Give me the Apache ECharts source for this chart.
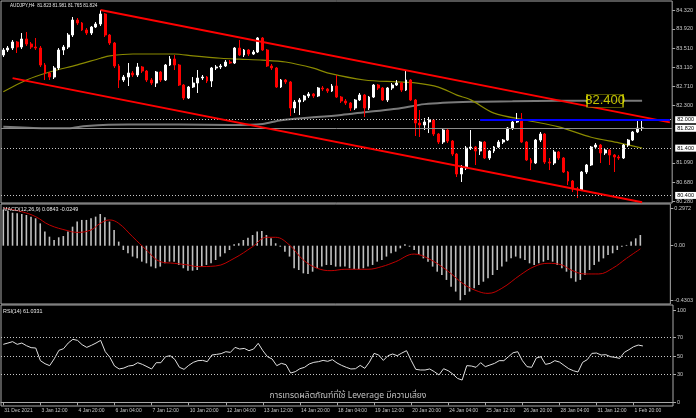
<!DOCTYPE html>
<html><head><meta charset="utf-8">
<script src="https://cdn.jsdelivr.net/npm/echarts@6/dist/echarts.min.js"></script>
<style>html,body{margin:0;padding:0;background:#000;}#c{width:696px;height:418px;}</style>
</head><body><div id="c"></div>
<script>
const tickLabels = ['31 Dec 2021','3 Jan 12:00','4 Jan 20:00','6 Jan 04:00','7 Jan 12:00','10 Jan 20:00','12 Jan 04:00','13 Jan 12:00','14 Jan 20:00','18 Jan 04:00','19 Jan 12:00','20 Jan 20:00','24 Jan 04:00','25 Jan 12:00','26 Jan 20:00','28 Jan 04:00','31 Jan 12:00','1 Feb 20:00'];

const openP = [
83.368,83.474,83.516,83.643,83.537,83.707,83.601,83.537,83.516,83.157,
82.988,82.903,83.094,83.474,83.537,83.791,84.108,84.045,83.897,83.833,
83.960,84.024,84.235,83.791,83.622,83.136,82.840,82.903,82.988,82.946,
83.115,83.030,82.840,82.776,83.009,82.840,83.157,83.284,83.157,82.734,
82.459,82.692,82.776,82.882,82.903,82.819,83.094,83.115,83.136,83.220,
83.199,83.516,83.368,83.474,83.389,83.432,83.728,83.474,83.136,83.094,
82.692,82.840,82.798,82.248,82.375,82.417,82.502,82.544,82.502,82.671,
82.650,82.607,82.713,82.480,82.396,82.354,82.248,82.417,82.523,82.248,
82.480,82.734,82.671,82.417,82.671,82.734,82.776,82.628,82.840,82.417,
81.931,81.889,81.952,81.994,81.698,81.529,81.783,81.550,81.275,80.853,
80.980,81.402,81.423,81.339,81.529,81.191,81.339,81.423,81.529,81.571,
81.825,81.952,81.994,81.529,81.149,81.085,81.571,81.698,81.106,81.085,
81.318,81.191,80.895,80.705,80.536,80.514,80.895,81.043,81.423,81.466,
81.297,81.360,81.254,81.212,81.191,81.466,81.571,81.741,81.823];
const closeP = [
83.474,83.516,83.643,83.537,83.707,83.601,83.537,83.516,83.157,82.988,
82.903,83.094,83.474,83.537,83.791,84.108,84.045,83.897,83.833,83.960,
84.024,84.235,83.791,83.622,83.136,82.840,82.903,82.988,82.946,83.115,
83.030,82.840,82.776,83.009,82.840,83.157,83.284,83.157,82.734,82.459,
82.692,82.776,82.882,82.903,82.819,83.094,83.115,83.136,83.220,83.199,
83.516,83.368,83.474,83.389,83.432,83.728,83.474,83.136,83.094,82.692,
82.840,82.798,82.248,82.375,82.417,82.502,82.544,82.502,82.671,82.650,
82.607,82.713,82.480,82.396,82.354,82.248,82.417,82.523,82.248,82.480,
82.734,82.671,82.417,82.671,82.734,82.776,82.628,82.840,82.417,81.931,
81.889,81.952,81.994,81.698,81.529,81.783,81.550,81.275,80.853,80.980,
81.402,81.423,81.339,81.529,81.191,81.339,81.423,81.529,81.571,81.825,
81.952,81.994,81.529,81.149,81.085,81.571,81.698,81.106,81.085,81.318,
81.191,80.895,80.705,80.536,80.514,80.895,81.043,81.423,81.466,81.297,
81.360,81.254,81.212,81.191,81.466,81.571,81.741,81.823,81.824];
const highP = [
83.516,83.559,83.685,83.664,83.833,83.855,83.643,83.728,83.559,83.199,
83.009,83.136,83.516,83.580,83.833,84.172,84.150,84.066,83.939,83.981,
84.066,84.320,84.256,83.812,83.643,83.178,82.946,83.199,83.030,83.199,
83.136,83.051,82.882,83.030,83.030,83.178,83.347,83.368,83.178,82.755,
82.713,82.903,83.051,82.946,82.924,83.115,83.157,83.178,83.263,83.263,
83.537,83.685,83.495,83.495,83.474,83.749,83.749,83.495,83.178,83.115,
82.861,82.861,82.819,82.417,82.459,82.523,82.586,82.565,82.692,82.713,
82.671,82.755,82.946,82.502,82.438,82.375,82.438,82.565,82.544,82.502,
82.755,82.755,82.692,82.692,82.776,82.840,82.798,83.051,82.861,82.438,
82.206,82.036,82.058,82.015,81.719,81.804,81.804,81.571,81.297,81.043,
81.445,81.783,81.445,81.550,81.550,81.360,81.445,81.571,81.593,81.846,
81.973,82.142,82.142,81.550,81.191,81.593,81.741,81.719,81.191,81.360,
81.339,81.212,80.916,80.726,80.578,80.916,81.064,81.445,81.508,81.487,
81.381,81.381,81.275,81.254,81.487,81.593,81.762,81.973,81.981];
const lowP = [
83.326,83.432,83.474,83.411,83.495,83.559,83.495,83.474,83.115,82.840,
82.840,82.861,83.051,83.368,83.495,83.749,84.003,83.876,83.791,83.791,
83.939,83.981,83.749,83.580,83.094,82.671,82.798,82.713,82.903,82.903,
82.988,82.798,82.734,82.692,82.798,82.819,83.136,83.051,82.713,82.417,
82.438,82.671,82.565,82.840,82.776,82.692,83.051,83.072,83.115,83.178,
83.178,83.347,83.326,83.347,83.368,83.411,83.453,83.115,83.051,82.671,
82.671,82.755,82.079,82.142,82.100,82.375,82.459,82.459,82.480,82.607,
82.565,82.586,82.459,82.354,82.311,82.185,82.206,82.396,82.058,82.206,
82.459,82.628,82.396,82.375,82.628,82.713,82.586,82.607,82.396,81.656,
81.635,81.783,81.719,81.656,81.487,81.487,81.508,81.233,80.789,80.684,
80.937,81.360,81.043,81.254,81.170,81.149,81.297,81.402,81.487,81.550,
81.783,81.931,81.508,81.127,80.937,81.064,81.529,81.064,80.937,81.043,
81.149,80.874,80.620,80.472,80.345,80.493,80.853,81.022,81.381,81.085,
81.254,81.043,80.895,81.149,81.170,81.423,81.550,81.719,81.765];

// moving averages: [bar, price]
const maOlive = [[0,82.59],[5,82.84],[10,83.01],[16,83.16],[21,83.30],[23,83.35],[28,83.39],[37,83.39],[41,83.35],[47,83.30],[51,83.28],[56,83.26],[61,83.22],[67,83.09],[70,82.99],[78,82.84],[85,82.80],[89,82.78],[94,82.69],[98,82.52],[101,82.42],[106,82.14],[113,81.99],[120,81.85],[127,81.63],[133,81.51],[138,81.40]];
const maGray = [[0,81.85],[9,81.82],[14,81.82],[18,81.87],[27,81.90],[38,81.90],[49,81.89],[56,81.91],[60,81.99],[73,82.10],[79,82.17],[85,82.23],[91,82.33],[101,82.38],[110,82.39],[120,82.40],[138,82.40]];

const macdHist = [
0.285,0.274,0.260,0.255,0.250,0.242,0.229,0.216,0.176,0.111,
0.071,0.045,0.066,0.076,0.111,0.150,0.190,0.203,0.203,0.216,
0.229,0.250,0.224,0.190,0.124,0.032,-0.034,-0.060,-0.086,-0.100,
-0.126,-0.139,-0.165,-0.178,-0.165,-0.139,-0.126,-0.126,-0.152,-0.178,
-0.197,-0.197,-0.192,-0.165,-0.152,-0.139,-0.113,-0.086,-0.060,-0.034,
0.011,0.019,0.045,0.063,0.084,0.111,0.116,0.084,0.058,0.019,
-0.008,-0.047,-0.086,-0.178,-0.192,-0.218,-0.223,-0.205,-0.178,-0.165,
-0.152,-0.152,-0.165,-0.165,-0.165,-0.178,-0.184,-0.186,-0.178,-0.165,
-0.152,-0.126,-0.113,-0.086,-0.060,-0.047,-0.021,0.011,-0.008,-0.034,
-0.073,-0.100,-0.126,-0.165,-0.205,-0.231,-0.270,-0.323,-0.362,-0.4303,
-0.389,-0.362,-0.336,-0.310,-0.284,-0.257,-0.231,-0.192,-0.165,-0.126,
-0.100,-0.086,-0.100,-0.113,-0.139,-0.152,-0.139,-0.126,-0.113,-0.126,
-0.152,-0.178,-0.205,-0.257,-0.284,-0.270,-0.231,-0.192,-0.152,-0.126,
-0.100,-0.073,-0.060,-0.034,-0.008,0.006,0.032,0.058,0.0843];
const macdSignal = [[0,0.2972],[4,0.268],[7,0.229],[10,0.163],[14,0.118],[16,0.105],[19,0.124],[21,0.176],[23,0.203],[25,0.176],[28,0.071],[31,-0.034],[34,-0.126],[37,-0.139],[40,-0.152],[42,-0.165],[46,-0.160],[50,-0.100],[54,-0.008],[57,0.066],[59,0.066],[62,0.005],[65,-0.113],[68,-0.178],[71,-0.197],[74,-0.186],[79,-0.186],[82,-0.165],[85,-0.126],[89,-0.066],[92,-0.100],[96,-0.192],[100,-0.310],[103,-0.362],[105,-0.376],[108,-0.336],[112,-0.231],[115,-0.165],[118,-0.139],[121,-0.152],[123,-0.192],[126,-0.223],[129,-0.223],[132,-0.178],[135,-0.100],[138,-0.0249]];

const rsi = [
62.8,64.2,65.7,62.8,64.2,61.3,59.2,58.8,45.1,41.8,
39.7,47.2,56.3,58.1,64.2,68.2,67.1,62.4,59.5,61.7,
64.2,67.1,54.8,48.7,39.3,36.1,37.1,39.3,40.0,42.9,
41.1,38.6,36.1,42.9,42.9,49.4,50.5,46.5,37.9,35.7,
40.0,43.3,45.1,45.4,44.0,51.2,51.9,52.7,54.8,54.1,
59.5,57.7,58.4,55.9,57.7,63.9,55.9,49.4,46.9,39.7,
42.2,40.7,31.7,33.2,36.4,37.9,41.5,43.3,44.0,45.4,
44.4,46.2,42.6,40.0,37.9,36.1,36.4,40.0,36.8,43.6,
53.0,51.2,45.4,50.5,52.3,50.5,53.4,55.9,45.4,35.7,
35.0,35.0,36.1,33.2,29.6,36.4,34.2,30.6,25.9,24.1,
39.7,39.3,37.9,42.9,38.6,40.4,42.2,45.1,45.1,49.4,
53.7,54.8,45.1,38.6,37.9,48.0,49.4,41.1,42.2,45.1,
43.6,40.0,36.4,34.2,32.8,43.3,46.2,53.0,53.4,51.2,
51.6,49.4,48.7,47.6,54.1,57.0,60.2,62.0,61.03];

const levelLines = [82.000, 81.400, 80.400];
const bidPrice = 81.824;
const upperChannel = [[21, 84.320], [144, 81.944]];
const lowerChannel = [[2, 82.880], [138, 80.258]];
const blueLevel = [[103, 82.000], [144, 82.000]];
const noteLabel = {bar: 130, price: 82.40, text: '82.400'};
const priceTicks = [84.32, 83.92, 83.51, 83.11, 82.71, 82.30, 81.09, 80.68, 80.28];
const macdTicks = [0.2972, 0, -0.4303];
const rsiTicks = [0, 30, 50, 70, 100];
const rsiLevels = [70, 50, 30];
const headerText = 'AUDJPY,H4  81.823 81.981 81.765 81.824';
const macdText = 'MACD(12,26,9) 0.0843 -0.0249';
const rsiText = 'RSI(14) 61.0331';
const disclaimer = 'การเทรดผลิตภัณฑ์ที่ใช้ Leverage มีความเสี่ยง';
const SLOTS = 145;

const FF = "'Liberation Sans', Arial, 'DejaVu Sans', sans-serif";
const AX = '#a8a8a8';
const LBL = '#c8c8c8';
const cats = Array.from({length: SLOTS}, (_, i) => String(i));
const candles = openP.map((o, i) => [o, closeP[i], lowP[i], highP[i]]);

function hiddenX(gi) {
  return {type:'category', gridIndex: gi, data: cats, boundaryGap: true, show: false};
}
const boxLabel = {
  show: true, position: 'end', distance: 3, formatter: p => Number(p.value).toFixed(3),
  backgroundColor: '#ffffff', color: '#000', fontSize: 5.5, fontFamily: FF, padding: [1, 2, 0, 2]
};
const dotted = {color: '#c8c8c8', type: [1, 2], width: 1};

const option = {
  backgroundColor: '#000',
  animation: false,
  title: [
    {text: headerText, left: 10, top: 3, padding: 0, textStyle: {color: '#e8e8e8', fontSize: 4.6, fontWeight: 'normal', fontFamily: FF}},
    {text: macdText, left: 3, top: 207.5, padding: 0, textStyle: {color: '#e8e8e8', fontSize: 5.4, fontWeight: 'normal', fontFamily: FF}},
    {text: rsiText, left: 3, top: 309, padding: 0, textStyle: {color: '#e8e8e8', fontSize: 5.4, fontWeight: 'normal', fontFamily: FF}},
    {text: disclaimer, left: 'center', top: 391, padding: 0, textStyle: {color: '#c0c0c0', fontSize: 8.5, fontWeight: 'normal', fontFamily: "'Noto Sans', 'Noto Sans Thai', 'DejaVu Sans', sans-serif"}}
  ],
  grid: [
    {left: 1, top: 1, width: 672, height: 202, show: true, borderColor: AX, borderWidth: 1, backgroundColor: '#000'},
    {left: 1, top: 204, width: 672, height: 100, show: true, borderColor: AX, borderWidth: 1, backgroundColor: '#000'},
    {left: 1, top: 305, width: 672, height: 101, show: true, borderColor: AX, borderWidth: 1, backgroundColor: '#000'}
  ],
  xAxis: [
    hiddenX(0), hiddenX(1),
    {type: 'category', gridIndex: 2, data: cats, boundaryGap: true,
     axisLine: {show: true, lineStyle: {color: AX}},
     axisTick: {show: true, length: 3, alignWithLabel: true, interval: (i) => i % 8 === 0 && i / 8 < tickLabels.length, lineStyle: {color: AX}},
     axisLabel: {show: true, interval: (i) => i % 8 === 0 && i / 8 < tickLabels.length, formatter: (v, i) => tickLabels[Number(v) / 8] || '',
       align: 'left', margin: 2, color: LBL, fontSize: 5, fontFamily: FF, padding: [0, 0, 0, 1]},
     splitLine: {show: false}}
  ],
  yAxis: [
    {type: 'value', gridIndex: 0, position: 'right', min: 80.240, max: 84.510, splitLine: {show: false},
     axisLine: {show: false}, axisTick: {show: true, length: 3, customValues: priceTicks, lineStyle: {color: AX}},
     axisLabel: {customValues: priceTicks, formatter: v => v.toFixed(3), color: LBL, fontSize: 5.5, fontFamily: FF, margin: 4}},
    {type: 'value', gridIndex: 1, position: 'right', min: -0.4599, max: 0.3287, splitLine: {show: false},
     axisLine: {show: false}, axisTick: {show: true, length: 3, customValues: macdTicks, lineStyle: {color: AX}},
     axisLabel: {customValues: macdTicks, formatter: v => v === 0 ? '0.00' : v.toFixed(4), color: LBL, fontSize: 5.5, fontFamily: FF, margin: 4}},
    {type: 'value', gridIndex: 2, position: 'right', min: -4.0, max: 105.4, splitLine: {show: false},
     axisLine: {show: false}, axisTick: {show: true, length: 3, customValues: rsiTicks, lineStyle: {color: AX}},
     axisLabel: {customValues: rsiTicks, formatter: v => String(v), color: LBL, fontSize: 5.5, fontFamily: FF, margin: 4}}
  ],
  series: [
    {type: 'line', name: 'MA200', xAxisIndex: 0, yAxisIndex: 0, data: maGray, showSymbol: false, smooth: 0.3,
     lineStyle: {color: '#7a7a7a', width: 2}, z: 1},
    {type: 'line', name: 'MA50', xAxisIndex: 0, yAxisIndex: 0, data: maOlive, showSymbol: false, smooth: 0.3,
     lineStyle: {color: '#8a8a00', width: 1.2}, z: 1},
    {type: 'candlestick', xAxisIndex: 0, yAxisIndex: 0, data: candles, barWidth: 2.4,
     itemStyle: {color: '#ffffff', color0: '#ff0000', borderColor: '#ffffff', borderColor0: '#ff0000', borderWidth: 1},
     z: 2,
     markLine: {silent: true, symbol: ['none', 'none'], animation: false,
       data: [
         ...levelLines.map(v => ({yAxis: v, lineStyle: dotted, label: boxLabel})),
         {yAxis: bidPrice, lineStyle: {color: '#8c8c8c', type: 'solid', width: 1}, label: boxLabel},
         [{coord: upperChannel[0], lineStyle: {color: '#ff0000', width: 2, type: 'solid'}, label: {show: false}}, {coord: upperChannel[1]}],
         [{coord: lowerChannel[0], lineStyle: {color: '#ff0000', width: 2, type: 'solid'}, label: {show: false}}, {coord: lowerChannel[1]}],
         [{coord: blueLevel[0], lineStyle: {color: '#0000ff', width: 2, type: 'solid'}, label: {show: false}}, {coord: blueLevel[1]}]
       ]}},
    {type: 'scatter', xAxisIndex: 0, yAxisIndex: 0, data: [[noteLabel.bar, noteLabel.price]], z: 5,
     symbol: 'rect', symbolSize: [36, 13], silent: true,
     itemStyle: {color: '#000', borderColor: '#c8c800', borderWidth: 1},
     label: {show: true, position: 'inside', formatter: noteLabel.text, color: '#f0f000', fontSize: 13, fontFamily: FF}},
    {type: 'bar', xAxisIndex: 1, yAxisIndex: 1, data: macdHist, barWidth: 1.6, itemStyle: {color: '#c0c0c0'}},
    {type: 'line', xAxisIndex: 1, yAxisIndex: 1, data: macdSignal, showSymbol: false, smooth: 0.4,
     lineStyle: {color: '#c00000', width: 1}},
    {type: 'line', xAxisIndex: 2, yAxisIndex: 2, data: rsi, showSymbol: false,
     lineStyle: {color: '#e0e0e0', width: 1},
     markLine: {silent: true, symbol: ['none', 'none'], label: {show: false},
       data: rsiLevels.map(v => ({yAxis: v, lineStyle: dotted}))}}
  ]
};
echarts.init(document.getElementById('c'), null, {renderer: 'canvas'}).setOption(option);
</script>
</body></html>
